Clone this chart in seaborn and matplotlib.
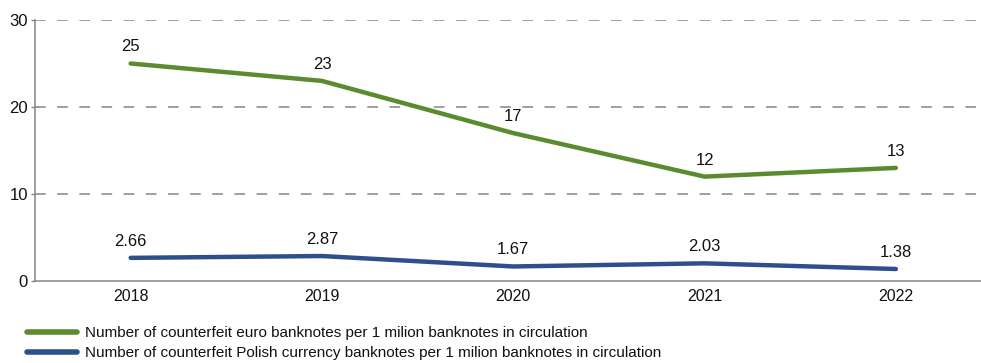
import matplotlib
matplotlib.use("Agg")
import matplotlib.pyplot as plt
from matplotlib.lines import Line2D
import seaborn as sns
import pandas as pd

years = ["2018", "2019", "2020", "2021", "2022"]
euro_values = [25, 23, 17, 12, 13]
pln_values = [2.66, 2.87, 1.67, 2.03, 1.38]
euro_labels = ["25", "23", "17", "12", "13"]
pln_labels = ["2.66", "2.87", "1.67", "2.03", "1.38"]
series_names = [
    "Number of counterfeit euro banknotes per 1 milion banknotes in circulation",
    "Number of counterfeit Polish currency banknotes per 1 milion banknotes in circulation",
]
colors = ["#5b8a2f", "#2e4f8c"]

sns.set_theme(style="white")
plt.rcParams["font.family"] = ["Liberation Sans Narrow", "Liberation Sans", "DejaVu Sans"]

df = pd.DataFrame({
    "year": years * 2,
    "pos": list(range(len(years))) * 2,
    "value": euro_values + pln_values,
    "series": [series_names[0]] * len(years) + [series_names[1]] * len(years),
})

fig = plt.figure(figsize=(9.81, 3.63), dpi=100)
ax = fig.add_axes([35 / 981, (363 - 281) / 363, 1 - 35 / 981, (281 - 20) / 363])

sns.lineplot(data=df, x="pos", y="value", hue="series", palette=colors,
             linewidth=3.2, ax=ax, legend=False, solid_capstyle="round")

for vals, labs in [(euro_values, euro_labels), (pln_values, pln_labels)]:
    for i, (v, t) in enumerate(zip(vals, labs)):
        ax.annotate(t, (i, v), xytext=(0, 6.5), textcoords="offset points",
                    ha="center", va="bottom", fontsize=12, color="#111111")

ax.set_xlim(-0.5, 4.445)
ax.set_ylim(0, 30)
ax.set_yticks([0, 10, 20, 30])
ax.set_xticks(range(len(years)))
ax.set_xticklabels(years)
ax.set_xlabel("")
ax.set_ylabel("")
for y in [10, 20, 30]:
    ax.axhline(y, color="#858585", linewidth=1.1, linestyle=(0, (7, 7.5)), zorder=0)

for s in ["top", "right"]:
    ax.spines[s].set_visible(False)
for s in ["left", "bottom"]:
    ax.spines[s].set_color("#858585")
    ax.spines[s].set_linewidth(1.1)
ax.tick_params(axis="y", length=3, width=1, color="#858585", labelsize=12,
               labelcolor="#111111", pad=2, left=True)
ax.tick_params(axis="x", length=0, labelsize=11.5, labelcolor="#111111", pad=6)

handles = [Line2D([0], [0], color=c, linewidth=4, solid_capstyle="round") for c in colors]
fig.legend(handles, series_names, loc="lower left", bbox_to_anchor=(16 / 981, -0.022),
           frameon=False, fontsize=11, handlelength=3.3, handletextpad=0.5,
           labelspacing=0.4, borderpad=0.2, labelcolor="#111111")

fig.savefig("out.png", dpi=100)
